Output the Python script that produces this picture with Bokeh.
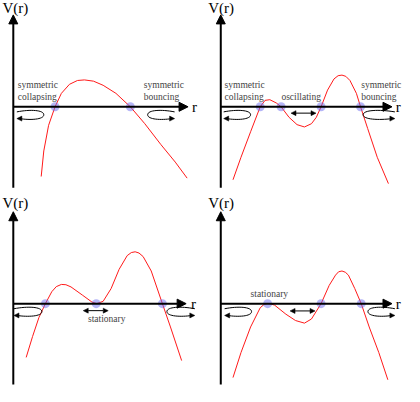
from bokeh.plotting import figure
from bokeh.models import Range1d, Arrow, NormalHead, ColumnDataSource
from bokeh.embed import file_html
from bokeh.resources import INLINE
from bokeh.core.properties import value

# ---- potential curves V(r) (picture coordinates, y down) ----
c1_r = [42.3, 45, 50, 56.7, 63.3, 71.7, 80, 87.3, 96.7, 106.7, 120, 135, 150, 166.7, 181.7, 194]
c1_v = [183.3, 156.7, 130, 110.7, 96.7, 87.3, 83.3, 82.7, 84, 88.3, 96.7, 110.7, 128.3, 150, 168.3, 185]

c2_r = [241.7, 250, 260, 270, 275, 280, 286.7, 291.7, 300, 308.3, 316, 323.3, 328.3, 333.3,
        340, 346.7, 351, 355, 359, 363.3, 370, 374.3, 381.7, 391.7, 403.3]
c2_v = [186.7, 163.3, 136.7, 110.7, 104, 103.3, 106.7, 110.7, 121.7, 129.3, 131.7, 128.3, 121.7, 110.7,
        93.3, 81.7, 78.3, 77.7, 79, 83.3, 96.7, 110.7, 133.3, 163.3, 190.7]

c3_r = [26.7, 33.3, 40, 46.7, 53.3, 58, 63.3, 68, 73.3, 85, 95, 100, 106.7, 115, 123.3, 131.7,
        136, 140, 144, 148.3, 156.7, 168.3, 176.7, 188.3]
c3_v = [371.7, 350, 330, 315.7, 303.3, 298, 295.7, 296, 298.3, 306.7, 314, 315.7, 313.3, 300, 280, 265.7,
        262.5, 261.7, 263, 266.7, 281.7, 315.7, 340, 375]

c4_r = [241.7, 250, 260, 270, 274, 277.7, 281, 285, 296.7, 306.7, 316, 323.3, 333.3, 341.7, 348.3,
        351.5, 355, 358.5, 361.7, 368.3, 375, 383.3, 393.3, 402.7]
c4_v = [392.7, 366.7, 340, 320, 316.5, 315.5, 316, 317.3, 326.7, 333.3, 336, 331.7, 315.7, 296.7, 286,
        282.5, 281.7, 283, 286, 300, 315.7, 340, 366.7, 395]

curves_r = [c1_r, c2_r, c3_r, c4_r]
curves_v = [c1_v, c2_v, c3_v, c4_v]

# ---- diagram axes of each panel ----
axis_x0 = [13.3, 229, 13.3, 229]          # V axis position
axis_y0 = [110.7, 110.7, 315.7, 315.7]    # r axis position (V = 0)
axis_top = [15, 15, 220, 220]
axis_bottom = [195, 195, 400, 400]
axis_right = [195, 407, 193, 407]

# turning points (V = 0) per panel
turn_r = [[56.7, 135], [270, 291.7, 333.3, 374.3], [46.7, 99.5, 168.3], [277.7, 333.3, 375]]

# ---- labels ----
vlabel_x = [2, 216, 2, 216]
vlabel_y = [8, 8, 211, 211]
rlabel_x = [199, 411, 198, 411]

note_text = ["symmetric", "collapsing", "symmetric", "bouncing",
             "symmetric", "collapsing", "oscillating", "symmetric", "bouncing",
             "stationary", "stationary"]
note_x = [18, 18, 149, 149, 233, 233, 292, 375, 375, 91, 260]
note_y = [88, 100, 88, 100, 88, 100, 100, 88, 100, 332, 306]

# ---- motion symbols ----
loop_x0 = [17, 153, 232, 377, 14, 173, 233, 382]
loop_x1 = [45, 181, 260, 410, 43, 202, 261, 410]
loop_cy = [119, 119, 119, 119, 324, 324, 324, 324]
loop_dir = ["left", "right", "left", "right", "left", "right", "left", "right"]

osc_x0 = [302, 86, 301]
osc_x1 = [328, 112, 327]
osc_y = [117.3, 323, 323.3]

# ---- figure ----
p = figure(width=404, height=386, x_range=Range1d(0, 420), y_range=Range1d(402, 0),
           output_backend="svg", toolbar_location=None, min_border=0,
           x_axis_location=None, y_axis_location=None)
p.grid.visible = False
p.outline_line_color = None
p.background_fill_color = "white"

# axes with arrow heads
ax_src = ColumnDataSource(dict(
    xs=axis_x0 + axis_x0,
    ys=axis_bottom + axis_y0,
    xe=axis_x0 + axis_right,
    ye=axis_top + axis_y0,
))
p.add_layout(Arrow(end=NormalHead(size=9, fill_color="black", line_color="black", line_width=1),
                   x_start="xs", y_start="ys", x_end="xe", y_end="ye", source=ax_src,
                   line_width=2, line_color="black"))

# curves
for r, v in zip(curves_r, curves_v):
    p.line(r, v, line_color="#ff1a1a", line_width=1)

# loops (open ellipses with arrow head)
b = 5.0
tx0, ty0, tx1, ty1, tcx0, tcy0, tcx1, tcy1 = [], [], [], [], [], [], [], []
hx_s, hy_s, hx_e, hy_e = [], [], [], []
for x0, x1, cy, d in zip(loop_x0, loop_x1, loop_cy, loop_dir):
    s = 1 if d == "left" else -1
    open_x = x0 if d == "left" else x1
    curve_x = x1 if d == "left" else x0
    mid = (x0 + x1) / 2
    tx0.append(open_x); ty0.append(cy - 0.6 * b)
    tcx0.append(mid); tcy0.append(cy - 1.15 * b)
    tcx1.append(curve_x); tcy1.append(cy - 1.0 * b)
    tx1.append(curve_x); ty1.append(cy)
    tx0.append(curve_x); ty0.append(cy)
    tcx0.append(curve_x); tcy0.append(cy + 1.0 * b)
    tcx1.append(mid); tcy1.append(cy + 1.15 * b)
    tx1.append(open_x + s * 3); ty1.append(cy + 0.8 * b)
    hx_s.append(open_x + s * 5); hy_s.append(cy + 0.8 * b)
    hx_e.append(open_x); hy_e.append(cy + 0.8 * b)

p.bezier(x0=tx0, y0=ty0, x1=tx1, y1=ty1, cx0=tcx0, cy0=tcy0, cx1=tcx1, cy1=tcy1,
         line_color="black", line_width=1)
p.add_layout(Arrow(end=NormalHead(size=5, fill_color="black", line_color="black", line_width=0.5),
                   x_start="xs", y_start="ys", x_end="xe", y_end="ye",
                   source=ColumnDataSource(dict(xs=hx_s, ys=hy_s, xe=hx_e, ye=hy_e)),
                   line_width=1, line_color="black"))

# oscillation double arrows
p.add_layout(Arrow(start=NormalHead(size=5, fill_color="black", line_color="black", line_width=0.5),
                   end=NormalHead(size=5, fill_color="black", line_color="black", line_width=0.5),
                   x_start="xs", y_start="ys", x_end="xe", y_end="ye",
                   source=ColumnDataSource(dict(xs=osc_x0, ys=osc_y, xe=osc_x1, ye=osc_y)),
                   line_width=1, line_color="black"))

# turning-point markers
dx, dy = [], []
for k, rs in enumerate(turn_r):
    for r in rs:
        dx.append(r)
        dy.append(axis_y0[k])
p.scatter(dx, dy, size=9, fill_color="#6b6bf0", fill_alpha=0.5, line_color=None)

# texts
serif = value("Liberation Serif")
p.text(vlabel_x, vlabel_y, text=["V(r)"] * 4, text_font=serif, text_font_size="15px",
       text_baseline="middle", text_align="left", text_color="black")
p.text(rlabel_x, axis_y0, text=["r"] * 4, text_font=serif, text_font_size="15px",
       text_baseline="middle", text_align="left", text_color="black")
p.text(note_x, note_y, text=note_text, text_font=serif, text_font_size="9.5px",
       text_baseline="middle", text_align="left", text_color="#444444")

open("out.html", "w").write(file_html(p, INLINE))
